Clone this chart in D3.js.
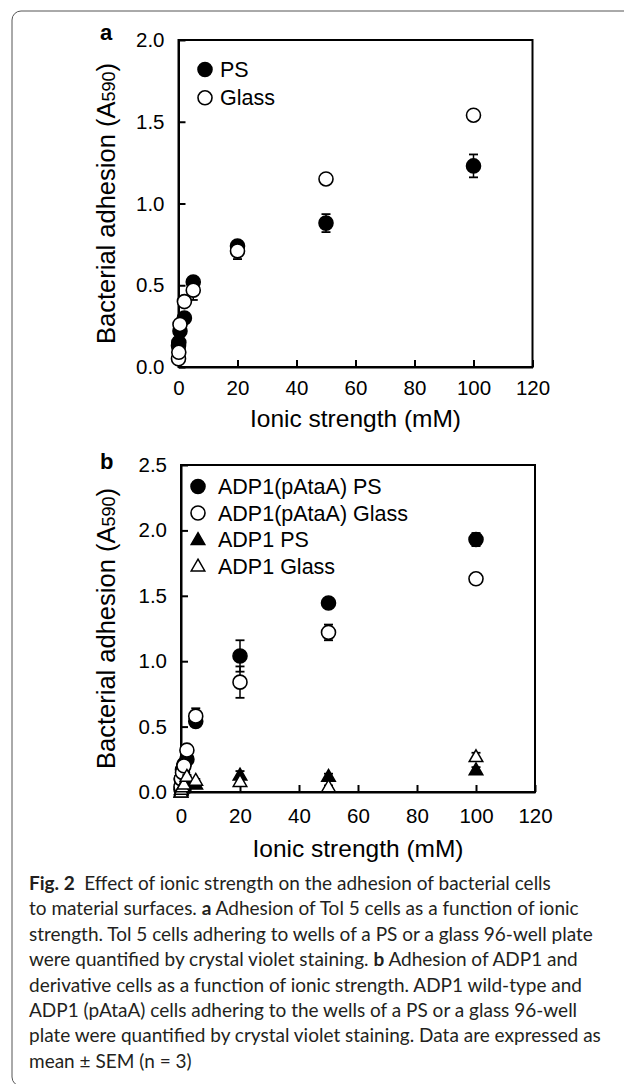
<!DOCTYPE html>
<html><head><meta charset="utf-8">
<script src="https://cdn.jsdelivr.net/npm/d3@7"></script>
<style>body{margin:0;background:#fff}</style>
</head><body>
<script>
// ---------- data ----------
const xTicks = [0, 20, 40, 60, 80, 100, 120];
const yTicksA = [0, 0.5, 1.0, 1.5, 2.0];
const yTicksB = [0, 0.5, 1.0, 1.5, 2.0, 2.5];

// panel a: Tol 5
const ionicA = [0, 0.1, 0.5, 2, 5, 20, 50, 100];
const psA = [0.13, 0.15, 0.22, 0.30, 0.52, 0.74, 0.88, 1.23];
const psAErr = [0.01, 0.01, 0.01, 0.02, 0.03, 0.02, 0.055, 0.07];
const glassA = [0.05, 0.09, 0.26, 0.40, 0.47, 0.71, 1.15, 1.54];
const glassAErr = [0.01, 0.01, 0.01, 0.02, 0.06, 0.05, 0.02, 0.02];
const seriesNamesA = ["PS", "Glass"];

// panel b: ADP1 and ADP1(pAtaA)
const ionicB = [0, 0.1, 0.5, 1, 2, 5, 20, 50, 100];
const ataPS = [0.02, 0.10, 0.17, 0.21, 0.25, 0.54, 1.04, 1.445, 1.93];
const ataPSErr = [0.01, 0.01, 0.01, 0.02, 0.02, 0.03, 0.12, 0.02, 0.05];
const ataGlass = [0.04, 0.10, 0.15, 0.20, 0.32, 0.58, 0.84, 1.22, 1.63];
const ataGlassErr = [0.01, 0.01, 0.01, 0.02, 0.02, 0.06, 0.12, 0.06, 0.02];
const adpPS = [0.0, 0.01, 0.03, 0.05, 0.08, 0.06, 0.13, 0.12, 0.17];
const adpPSErr = [0, 0, 0.01, 0.01, 0.01, 0.01, 0.03, 0.02, 0.02];
const adpGlass = [0.0, 0.02, 0.04, 0.06, 0.12, 0.09, 0.08, 0.04, 0.27];
const adpGlassErr = [0, 0, 0.01, 0.01, 0.01, 0.01, 0.02, 0.01, 0.03];
const seriesNamesB = ["ADP1(pAtaA) PS", "ADP1(pAtaA) Glass", "ADP1 PS", "ADP1 Glass"];

const xTitle = "Ionic strength (mM)";
const yTitleMain = "Bacterial adhesion (A";
const yTitleSub = "590";

const captionLines = [
  [["Fig. 2", true], ["\u2002Effect of ionic strength on the adhesion of bacterial cells", false]],
  [["to material surfaces. ", false], ["a", true], [" Adhesion of Tol 5 cells as a function of ionic", false]],
  [["strength. Tol 5 cells adhering to wells of a PS or a glass 96-well plate", false]],
  [["were quantified by crystal violet staining. ", false], ["b", true], [" Adhesion of ADP1 and", false]],
  [["derivative cells as a function of ionic strength. ADP1 wild-type and", false]],
  [["ADP1 (pAtaA) cells adhering to the wells of a PS or a glass 96-well", false]],
  [["plate were quantified by crystal violet staining. Data are expressed as", false]],
  [["mean \u00b1 SEM (n = 3)", false]]
];

// ---------- drawing ----------
const W = 624, H = 1084;
const FONT = "'Liberation Sans', Arial, Helvetica, sans-serif";
const svg = d3.select("body").append("svg")
  .attr("width", W).attr("height", H).style("display", "block");

// outer rounded frame
svg.append("rect").attr("x", 12).attr("y", 11).attr("width", 720).attr("height", 1075)
  .attr("rx", 9).attr("fill", "none").attr("stroke", "#555").attr("stroke-width", 1);

const triSym = d3.symbol().type(d3.symbolTriangle).size(80);

function drawMarker(g, cx, cy, shape, filled) {
  if (shape === "circle") {
    g.append("circle").attr("cx", cx).attr("cy", cy).attr("r", 7)
      .attr("fill", filled ? "#000" : "#fff").attr("stroke", "#000").attr("stroke-width", 1.6);
  } else {
    g.append("path").attr("d", triSym).attr("transform", `translate(${cx},${cy + 1})`)
      .attr("fill", filled ? "#000" : "#fff").attr("stroke", "#000").attr("stroke-width", 1.5);
  }
}

function panel(cfg) {
  const x = d3.scaleLinear().domain([0, 120]).range([cfg.left, cfg.right]);
  const y = d3.scaleLinear().domain([0, cfg.ymax]).range([cfg.bottom, cfg.top]);
  const g = svg.append("g");

  const xa = g.append("g").attr("transform", `translate(0,${cfg.bottom})`)
    .call(d3.axisBottom(x).tickValues(xTicks).tickSizeInner(-7).tickSizeOuter(0).tickPadding(cfg.xpad));
  const ya = g.append("g").attr("transform", `translate(${cfg.left},0)`)
    .call(d3.axisLeft(y).tickValues(cfg.yticks).tickFormat(d3.format(".1f"))
      .tickSizeInner(-7).tickSizeOuter(0).tickPadding(14));
  [xa, ya].forEach(a => {
    a.attr("font-family", FONT).attr("font-size", 20.5);
    a.selectAll("text").attr("fill", "#000");
    a.selectAll("line").attr("stroke", "#000").attr("stroke-width", 2);
    a.select(".domain").attr("stroke", "#000").attr("stroke-width", 2);
  });

  // full frame
  g.append("rect").attr("x", cfg.left).attr("y", cfg.top)
    .attr("width", cfg.right - cfg.left).attr("height", cfg.bottom - cfg.top)
    .attr("fill", "none").attr("stroke", "#000").attr("stroke-width", 2);

  // axis titles
  g.append("text").attr("x", (cfg.left + cfg.right) / 2).attr("y", cfg.xTitleY)
    .attr("text-anchor", "middle").attr("font-family", FONT).attr("font-size", 24.5)
    .text(xTitle);
  const yt = g.append("text")
    .attr("transform", `translate(115,${(cfg.top + cfg.bottom) / 2}) rotate(-90)`)
    .attr("text-anchor", "middle").attr("font-family", FONT).attr("font-size", 25.5);
  yt.append("tspan").text(yTitleMain);
  yt.append("tspan").attr("font-size", 18).text(yTitleSub);
  yt.append("tspan").text(")");

  // panel letter
  g.append("text").attr("x", 100).attr("y", cfg.letterY).attr("font-family", FONT)
    .attr("font-weight", "bold").attr("font-size", 22).text(cfg.letter);

  // series
  cfg.series.forEach(s => {
    const sg = g.append("g");
    s.ys.forEach((v, i) => {
      const cx = x(cfg.xs[i]);
      const e = s.errs[i];
      if (e > 0) {
        const y1 = y(v - e), y2 = y(v + e);
        sg.append("line").attr("x1", cx).attr("x2", cx).attr("y1", y1).attr("y2", y2)
          .attr("stroke", "#000").attr("stroke-width", 1.5);
        [y1, y2].forEach(yy => sg.append("line").attr("x1", cx - 4.5).attr("x2", cx + 4.5)
          .attr("y1", yy).attr("y2", yy).attr("stroke", "#000").attr("stroke-width", 1.8));
      }
    });
    s.ys.forEach((v, i) => drawMarker(sg, x(cfg.xs[i]), y(v), s.shape, s.filled));
  });

  // legend
  cfg.series.forEach((s, i) => {
    const cy = cfg.legY + i * cfg.legStep;
    drawMarker(g, cfg.legX, cy, s.shape, s.filled);
    g.append("text").attr("x", cfg.legX + cfg.legGap).attr("y", cy + 7.5)
      .attr("font-family", FONT).attr("font-size", 21.5).text(s.name);
  });
}

panel({
  left: 178.5, right: 532.5, top: 40, bottom: 367, ymax: 2.0, yticks: yTicksA,
  xpad: 13, xTitleY: 427, letter: "a", letterY: 40, xs: ionicA,
  legX: 205, legY: 69.5, legStep: 28.3, legGap: 15,
  series: [
    { name: seriesNamesA[0], ys: psA, errs: psAErr, shape: "circle", filled: true },
    { name: seriesNamesA[1], ys: glassA, errs: glassAErr, shape: "circle", filled: false }
  ]
});

panel({
  left: 181, right: 535, top: 465, bottom: 792, ymax: 2.5, yticks: yTicksB,
  xpad: 16, xTitleY: 857, letter: "b", letterY: 469, xs: ionicB,
  legX: 198, legY: 486.5, legStep: 26.5, legGap: 20,
  series: [
    { name: seriesNamesB[0], ys: ataPS, errs: ataPSErr, shape: "circle", filled: true },
    { name: seriesNamesB[1], ys: ataGlass, errs: ataGlassErr, shape: "circle", filled: false },
    { name: seriesNamesB[2], ys: adpPS, errs: adpPSErr, shape: "triangle", filled: true },
    { name: seriesNamesB[3], ys: adpGlass, errs: adpGlassErr, shape: "triangle", filled: false }
  ]
});

// caption
const cap = svg.append("g").attr("font-family", "Lato, 'Open Sans', sans-serif")
  .attr("font-size", 19).attr("fill", "#231f20");
captionLines.forEach((segs, i) => {
  const t = cap.append("text").attr("x", 29).attr("y", 890 + i * 25.4);
  segs.forEach(([str, bold]) => {
    t.append("tspan").attr("font-weight", bold ? "bold" : "normal").text(str);
  });
});
</script>
</body></html>
